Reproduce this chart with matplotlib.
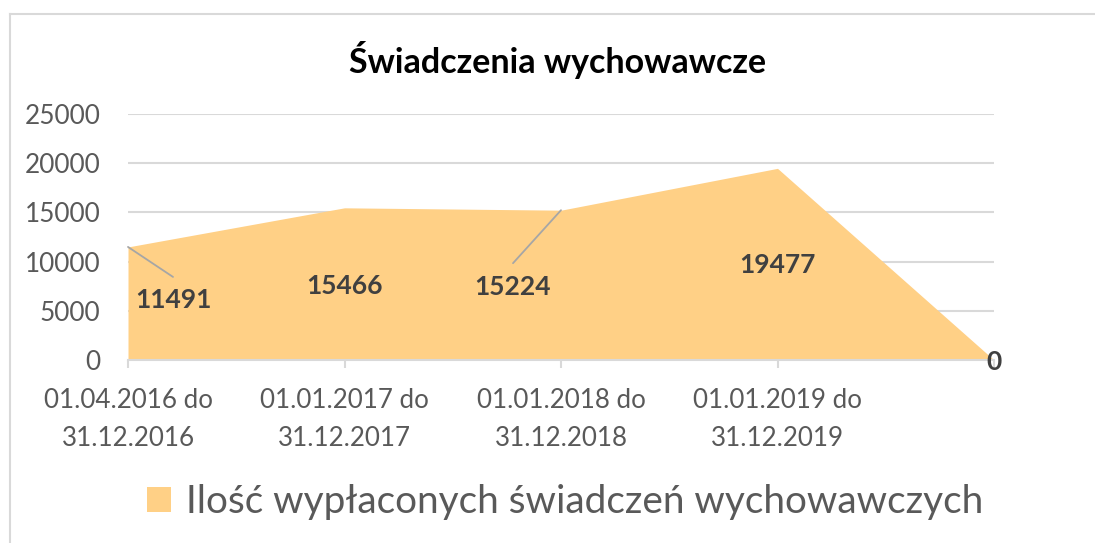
import matplotlib
matplotlib.use("Agg")
import matplotlib.pyplot as plt
from matplotlib.lines import Line2D

plt.rcParams['font.family'] = ['Lato', 'DejaVu Sans']

categories = ["01.04.2016 do\n31.12.2016", "01.01.2017 do\n31.12.2017",
              "01.01.2018 do\n31.12.2018", "01.01.2019 do\n31.12.2019", ""]
values = [11491, 15466, 15224, 19477, 0]
series_name = "Ilość wypłaconych świadczeń wychowawczych"
title = "Świadczenia wychowawcze"
yticks = [0, 5000, 10000, 15000, 20000, 25000]

W, H = 1095, 543
fig = plt.figure(figsize=(W / 100, H / 100), dpi=100)
fig.patch.set_facecolor('white')

def fx(px):
    return px / W

def fy(py):
    return 1 - py / H

ax = fig.add_axes([fx(128), fy(360), fx(994) - fx(128), fy(114) - fy(360)])
fill_color = '#FFD086'
grid_color = '#D9D9D9'
x = list(range(len(values)))
ax.fill_between(x, values, 0, color=fill_color, lw=0, zorder=2,
                label=series_name)
ax.set_xlim(0, len(values) - 1)
ax.set_ylim(0, 25000)
ax.set_yticks(yticks)
ax.set_yticklabels([str(v) for v in yticks])
ax.set_xticks(x)
ax.set_xticklabels(categories, linespacing=1.65)
ax.yaxis.grid(True, color=grid_color, lw=1.5, zorder=0)
ax.set_axisbelow(True)
for s in ['top', 'right', 'left']:
    ax.spines[s].set_visible(False)
ax.spines['bottom'].set_color(grid_color)
ax.spines['bottom'].set_linewidth(1.5)
ax.spines['bottom'].set_zorder(3)
ax.tick_params(axis='y', length=0, pad=20, labelsize=18.8, labelcolor='#595959')
ax.tick_params(axis='x', length=6, width=1.5, color=grid_color, pad=14,
               labelsize=18.7, labelcolor='#595959')

# data labels (offsets in pixels from the data point)
label_off = [(45, -53), (0, -78), (-48, -77), (0, -97), (0, -2)]
leader_off = [(45, -30), None, (-48, -53), None, None]
for i, v in enumerate(values):
    if leader_off[i] is not None:
        ax.annotate('', xy=(i, v), xytext=leader_off[i], textcoords='offset pixels',
                    arrowprops=dict(arrowstyle='-', color='#A6A6A6', lw=1.3,
                                    shrinkA=0, shrinkB=0), zorder=4)
    ax.annotate(str(v), xy=(i, v), xytext=label_off[i], textcoords='offset pixels',
                ha='center', va='center', fontsize=19, fontweight='bold',
                color='#404040', zorder=5, annotation_clip=False)

fig.text(fx(558), fy(60), title, ha='center', va='center', fontsize=24.5,
         fontweight='bold', color='black')

leg = fig.legend(loc='center', bbox_to_anchor=(fx(565), fy(502)), frameon=False,
                 fontsize=27.9, handlelength=0.62, handleheight=0.62,
                 handletextpad=0.4, labelcolor='#595959')

# chart border (left and top visible)
fig.add_artist(Line2D([fx(9.5), fx(9.5)], [fy(14), 0], color=grid_color, lw=1.5))
fig.add_artist(Line2D([fx(9.5), 1], [fy(14), fy(14)], color=grid_color, lw=1.5))

fig.savefig('out.png', dpi=100)
